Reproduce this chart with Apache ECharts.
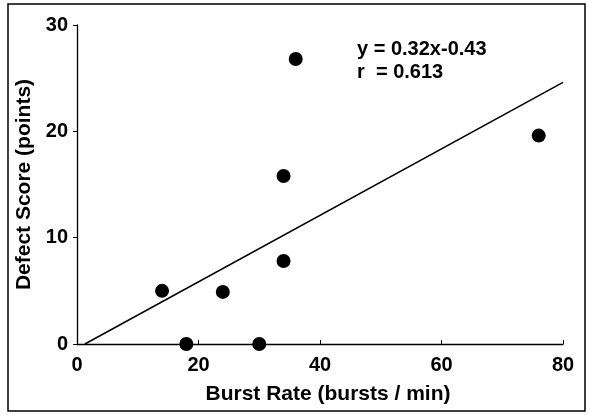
<!DOCTYPE html>
<html>
<head>
<meta charset="utf-8">
<script src="https://cdn.jsdelivr.net/npm/echarts@6/dist/echarts.min.js"></script>
<style>
	html, body { margin: 0; padding: 0; background: #fff; }
	#chart { width: 593px; height: 415px; }
</style>
</head>
<body>
<div id="chart"></div>
<script>
	// burst rate (bursts / min) vs defect score (points)
	const burstRate = [14, 18, 24, 30, 34, 34, 36, 76]
	const defectScore = [5, 0, 4.9, 0, 7.8, 15.8, 26.8, 19.6]
	// regression line y = 0.32x-0.43, endpoints as drawn
	const fitX = [1.3, 80]
	const fitY = [0, 24.6]
	const xTicks = [0, 20, 40, 60, 80]
	const yTicks = [0, 10, 20, 30]
	const annotation = ['y = 0.32x-0.43', 'r  = 0.613']

	const font = 'Helvetica, Arial, "Liberation Sans", sans-serif'
	const chart = echarts.init(document.getElementById('chart'), null, { renderer: 'canvas' })

	const points = burstRate.map((x, i) => [x, defectScore[i]])
	const fitLine = fitX.map((x, i) => [x, fitY[i]])

	const option = {
		animation: false,
		backgroundColor: '#fff',
		grid: { left: 77, right: 30, top: 25, bottom: 71, outerBoundsMode: 'none' },
		xAxis: {
			type: 'value',
			min: xTicks[0],
			max: xTicks[xTicks.length - 1],
			interval: 20,
			name: 'Burst Rate (bursts / min)',
			nameLocation: 'middle',
			nameGap: 40,
			nameTextStyle: { fontFamily: font, fontWeight: 'bold', fontSize: 21, color: '#000', padding: [0, 0, 0, 16] },
			axisLine: { onZero: false, lineStyle: { color: '#000', width: 1.3 } },
			axisTick: { inside: true, length: 4, lineStyle: { color: '#000' } },
			axisLabel: { fontFamily: font, fontWeight: 'bold', fontSize: 20, color: '#000', margin: 11 },
			splitLine: { show: false }
		},
		yAxis: {
			type: 'value',
			min: yTicks[0],
			max: yTicks[yTicks.length - 1],
			interval: 10,
			name: 'Defect Score (points)',
			nameLocation: 'middle',
			nameGap: 42,
			nameTextStyle: { fontFamily: font, fontWeight: 'bold', fontSize: 21, color: '#000' },
			axisLine: { show: true, lineStyle: { color: '#000', width: 1.3 } },
			axisTick: { show: true, length: 4, lineStyle: { color: '#000' } },
			axisLabel: { fontFamily: font, fontWeight: 'bold', fontSize: 20, color: '#000', margin: 9 },
			splitLine: { show: false }
		},
		series: [
			{
				type: 'line',
				data: fitLine,
				symbol: 'none',
				lineStyle: { color: '#000', width: 1.5 },
				z: 2
			},
			{
				type: 'scatter',
				data: points,
				symbol: 'circle',
				symbolSize: 14,
				itemStyle: { color: '#000', opacity: 1 },
				z: 3
			}
		],
		graphic: [
			{
				type: 'rect',
				shape: { x: 8, y: 4, width: 577, height: 407 },
				style: { fill: 'none', stroke: '#000', lineWidth: 1.5 },
				silent: true
			},
			{
				type: 'text',
				left: 357,
				top: 38,
				style: {
					text: annotation.join('\n'),
					font: 'bold 20px ' + font,
					fill: '#000',
					lineHeight: 23
				}
			}
		]
	}
	chart.setOption(option)
</script>
</body>
</html>
